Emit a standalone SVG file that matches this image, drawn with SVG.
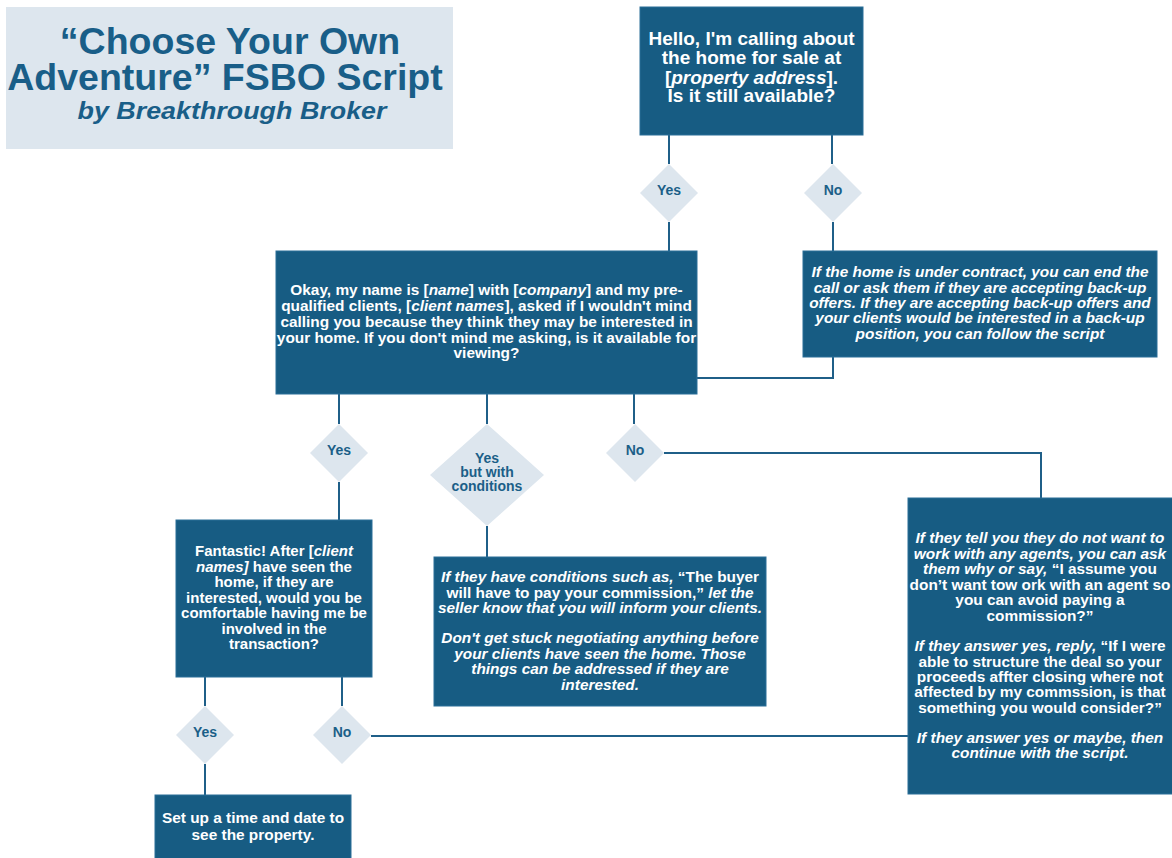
<svg xmlns="http://www.w3.org/2000/svg" width="1172" height="858" viewBox="0 0 1172 858">
<style>
.box{fill:#175c83;stroke:#2a6e98;stroke-width:1}
.dia{fill:#dde6ee}
.t{font-family:"Liberation Sans",Arial,sans-serif;font-weight:bold;fill:#ffffff;text-anchor:middle;font-size:15.4px}
.big{font-size:19px}
.f15{font-size:15px}
.it{font-style:italic}
.dt{font-family:"Liberation Sans",Arial,sans-serif;font-weight:bold;fill:#1b5f88;text-anchor:middle;font-size:14px}
.ttl{font-family:"Liberation Sans",Arial,sans-serif;font-weight:bold;fill:#195e88;text-anchor:middle}
.ln{fill:none;stroke:#1f5f88;stroke-width:2}
</style>
<rect width="1172" height="858" fill="#ffffff"/>

<g id="title">
<rect x="6" y="7" width="447" height="142" fill="#dde6ee"/>
<text class="ttl" x="230" y="54" font-size="37.5">“Choose Your Own</text>
<text class="ttl" x="225" y="90" font-size="37.5">Adventure” FSBO Script</text>
<text class="ttl" x="232" y="119" font-size="24" font-style="italic" textLength="309" lengthAdjust="spacingAndGlyphs">by Breakthrough Broker</text>
</g>

<g id="connectors">
<path class="ln" d="M669 135 V164 M669 222 V251"/>
<path class="ln" d="M832 135 V164 M833 222 V251"/>
<path class="ln" d="M833 357 V378 H697"/>
<path class="ln" d="M339 394 V424 M339 482 V520"/>
<path class="ln" d="M487 394 V424 M487 526 V557"/>
<path class="ln" d="M634 394 V424 M664 453 H1041 V498"/>
<path class="ln" d="M205 677 V706 M205 764 V795"/>
<path class="ln" d="M342 677 V706 M371 736 H908"/>
</g>

<g id="start">
<rect class="box" x="640" y="7" width="223" height="128"/>
<text class="t big" x="751.5" y="45">Hello, I'm calling about</text>
<text class="t big" x="751.5" y="64">the home for sale at</text>
<text class="t big" x="751.5" y="84">[<tspan class="it">property address</tspan>].</text>
<text class="t big" x="751.5" y="102">Is it still available?</text>
</g>

<g id="d-yes1"><path class="dia" d="M669 164 L698 193 L669 222 L640 193 Z"/><text class="dt" x="669" y="195">Yes</text></g>
<g id="d-no1"><path class="dia" d="M833 164 L862 193 L833 222 L804 193 Z"/><text class="dt" x="833" y="195">No</text></g>

<g id="intro">
<rect class="box" x="276" y="251" width="421" height="143"/>
<text class="t" x="486.5" y="295">Okay, my name is [<tspan class="it">name</tspan>] with [<tspan class="it">company</tspan>] and my pre-</text>
<text class="t" x="486.5" y="311">qualified clients, [<tspan class="it">client names</tspan>], asked if I wouldn't mind</text>
<text class="t" x="486.5" y="327">calling you because they think they may be interested in</text>
<text class="t" x="486.5" y="343">your home. If you don't mind me asking, is it available for</text>
<text class="t" x="486.5" y="358">viewing?</text>
</g>

<g id="contract">
<rect class="box" x="803" y="251" width="354" height="106"/>
<text class="t it" x="980" y="277">If the home is under contract, you can end the</text>
<text class="t it" x="980" y="293">call or ask them if they are accepting back-up</text>
<text class="t it" x="980" y="308">offers. If they are accepting back-up offers and</text>
<text class="t it" x="980" y="323">your clients would be interested in a back-up</text>
<text class="t it" x="980" y="339">position, you can follow the script</text>
</g>

<g id="d-yes2"><path class="dia" d="M339 424 L368 453 L339 482 L310 453 Z"/><text class="dt" x="339" y="455">Yes</text></g>
<g id="d-cond"><path class="dia" d="M487 424 L544 475 L487 526 L430 475 Z"/>
<text class="dt" x="487" y="463">Yes</text><text class="dt" x="487" y="477">but with</text><text class="dt" x="487" y="491">conditions</text></g>
<g id="d-no2"><path class="dia" d="M635 424 L664 453 L635 482 L606 453 Z"/><text class="dt" x="635" y="455">No</text></g>

<g id="fantastic">
<rect class="box" x="176" y="520" width="196" height="157"/>
<text class="t f15" x="274" y="556">Fantastic! After [<tspan class="it">client</tspan></text>
<text class="t f15" x="274" y="572"><tspan class="it">names]</tspan> have seen the</text>
<text class="t f15" x="274" y="587">home, if they are</text>
<text class="t f15" x="274" y="603">interested, would you be</text>
<text class="t f15" x="274" y="618">comfortable having me be</text>
<text class="t f15" x="274" y="634">involved in the</text>
<text class="t f15" x="274" y="649">transaction?</text>
</g>

<g id="conditions">
<rect class="box" x="434" y="557" width="332" height="149"/>
<text class="t" x="600" y="582"><tspan class="it">If they have conditions such as,</tspan> “The buyer</text>
<text class="t" x="600" y="598">will have to pay your commission,” <tspan class="it">let the</tspan></text>
<text class="t it" x="600" y="613">seller know that you will inform your clients.</text>
<text class="t it" x="600" y="643">Don't get stuck negotiating anything before</text>
<text class="t it" x="600" y="659">your clients have seen the home. Those</text>
<text class="t it" x="600" y="674">things can be addressed if they are</text>
<text class="t it" x="600" y="690">interested.</text>
</g>

<g id="noagents">
<rect class="box" x="908" y="498" width="270" height="296"/>
<text class="t it" x="1040" y="543">If they tell you they do not want to</text>
<text class="t it" x="1040" y="559">work with any agents, you can ask</text>
<text class="t" x="1040" y="574"><tspan class="it">them why or say,</tspan> “I assume you</text>
<text class="t" x="1040" y="590">don’t want tow ork with an agent so</text>
<text class="t" x="1040" y="605">you can avoid paying a</text>
<text class="t" x="1040" y="621">commission?”</text>
<text class="t" x="1040" y="651"><tspan class="it">If they answer yes, reply,</tspan> “If I were</text>
<text class="t" x="1040" y="667">able to structure the deal so your</text>
<text class="t" x="1040" y="682">proceeds affter closing where not</text>
<text class="t" x="1040" y="697">affected by my commssion, is that</text>
<text class="t" x="1040" y="713">something you would consider?”</text>
<text class="t it" x="1040" y="743">If they answer yes or maybe, then</text>
<text class="t it" x="1040" y="758">continue with the script.</text>
</g>

<g id="d-yes3"><path class="dia" d="M205 706 L234 735 L205 764 L176 735 Z"/><text class="dt" x="205" y="737">Yes</text></g>
<g id="d-no3"><path class="dia" d="M342 706 L371 735 L342 764 L313 735 Z"/><text class="dt" x="342" y="737">No</text></g>

<g id="setup">
<rect class="box" x="155" y="795" width="196" height="70"/>
<text class="t" x="253" y="823">Set up a time and date to</text>
<text class="t" x="253" y="840">see the property.</text>
</g>
</svg>
